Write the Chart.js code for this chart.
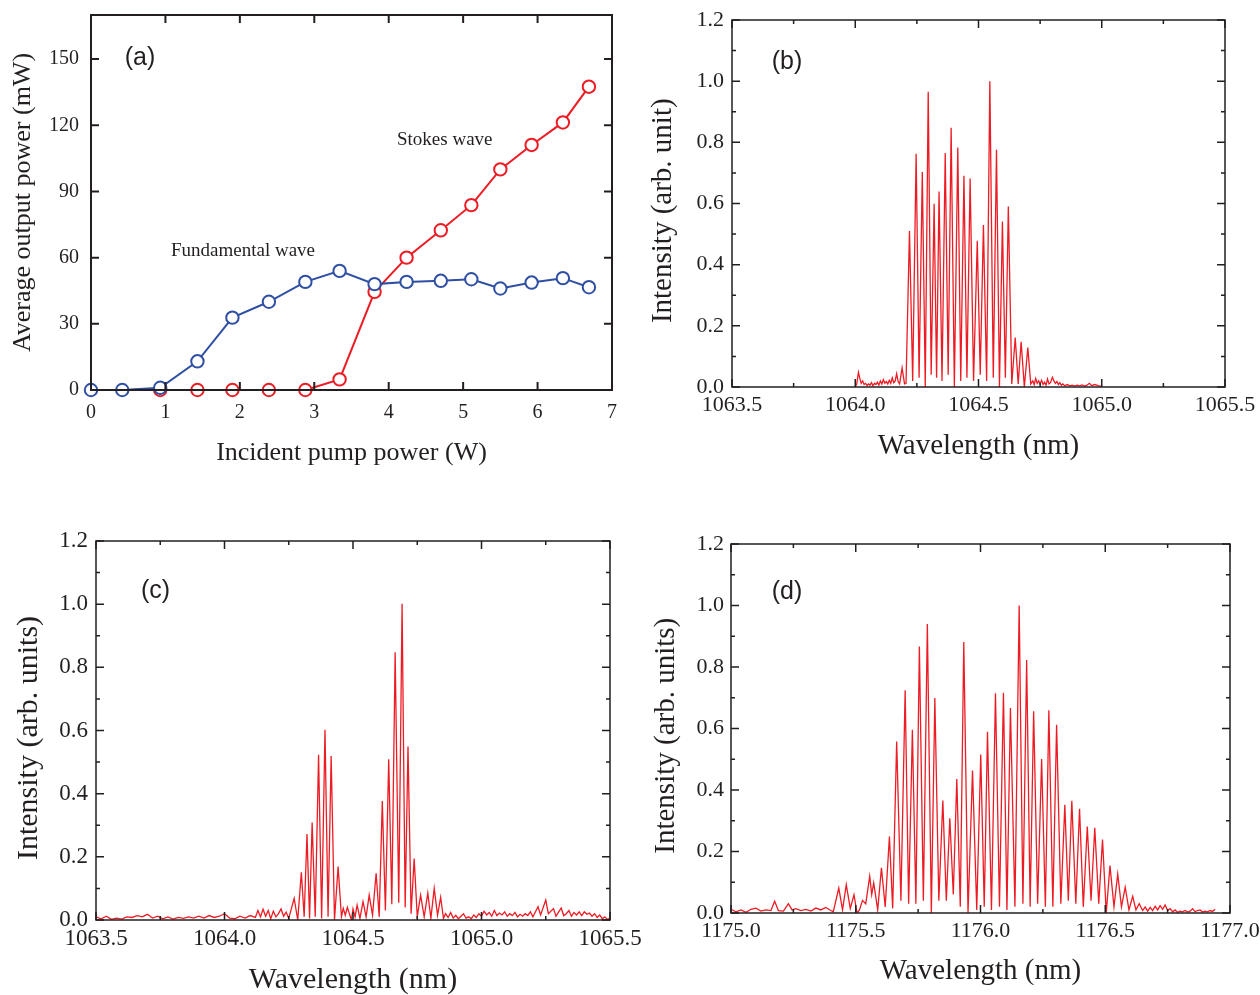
<!DOCTYPE html>
<html><head><meta charset="utf-8">
<script src="https://cdn.jsdelivr.net/npm/chart.js@4.4.1/dist/chart.umd.min.js"></script>
<style>
html,body{margin:0;padding:0;background:#fff;}
body{width:1260px;height:995px;overflow:hidden;position:relative}
canvas{position:absolute}
</style></head><body>
<canvas id="ca" width="640" height="480" style="left:0;top:0"></canvas>
<canvas id="cb" width="620" height="480" style="left:640px;top:0"></canvas>
<canvas id="cc" width="650" height="495" style="left:0;top:500px"></canvas>
<canvas id="cd" width="620" height="495" style="left:640px;top:500px"></canvas>
<script>
// ---------- Panel (a) data ----------
const pumpFund = [0, 0.42, 0.93, 1.43, 1.90, 2.39, 2.88, 3.34, 3.81, 4.24, 4.70, 5.11, 5.50, 5.92, 6.34, 6.69];
const fundPower = [0, 0, 1, 13, 32.8, 40, 49, 54, 48, 49, 49.5, 50.2, 46, 48.7, 50.7, 46.6];
const pumpStokes = [0.93, 1.43, 1.90, 2.39, 2.88, 3.34, 3.81, 4.24, 4.70, 5.11, 5.50, 5.92, 6.34, 6.69];
const stokesPower = [0, 0, 0, 0, 0, 4.8, 44.5, 60, 72.4, 83.8, 100, 111.1, 121.3, 137.5];
const aXTicks = [0, 1, 2, 3, 4, 5, 6, 7];
const aYTicks = [0, 30, 60, 90, 120, 150];

// ---------- Spectra tick labels ----------
const b_c_XTicks = ['1063.5', '1064.0', '1064.5', '1065.0', '1065.5'];
const dXTicks = ['1175.0', '1175.5', '1176.0', '1176.5', '1177.0'];
const intTicks = ['0.0', '0.2', '0.4', '0.6', '0.8', '1.0', '1.2'];

// ---------- Panel (b) spectrum [wavelength nm, intensity] ----------
const specB = [
[1064.000,0.000],[1064.006,0.010],[1064.013,0.048],[1064.018,0.030],[1064.024,0.012],[1064.030,0.020],
[1064.036,0.008],[1064.042,0.012],[1064.048,0.005],[1064.054,0.010],[1064.060,0.006],[1064.066,0.014],
[1064.072,0.004],[1064.078,0.012],[1064.084,0.008],[1064.090,0.016],[1064.096,0.006],[1064.102,0.020],
[1064.108,0.010],[1064.114,0.024],[1064.120,0.012],[1064.126,0.018],[1064.132,0.010],[1064.138,0.022],
[1064.144,0.012],[1064.150,0.030],[1064.156,0.014],[1064.162,0.020],[1064.168,0.044],[1064.174,0.018],
[1064.180,0.010],[1064.190,0.062],[1064.200,0.010],[1064.206,0.012],
[1064.220,0.510],[1064.233,0.020],[1064.247,0.763],[1064.259,0.030],[1064.272,0.703],[1064.284,0.000],
[1064.296,0.965],[1064.308,0.040],[1064.320,0.599],[1064.330,0.030],[1064.340,0.639],[1064.352,0.020],
[1064.365,0.765],[1064.377,0.040],[1064.389,0.848],[1064.402,0.000],[1064.416,0.783],[1064.428,0.020],
[1064.441,0.691],[1064.453,0.030],[1064.466,0.682],[1064.480,0.020],[1064.495,0.478],[1064.507,0.040],
[1064.520,0.530],[1064.533,0.020],[1064.546,1.000],[1064.560,0.030],[1064.573,0.776],[1064.585,0.000],
[1064.597,0.541],[1064.609,0.030],[1064.621,0.590],[1064.635,0.010],[1064.649,0.162],[1064.661,0.010],
[1064.673,0.148],[1064.686,0.000],[1064.700,0.129],[1064.712,0.010],
[1064.720,0.020],[1064.726,0.008],[1064.732,0.028],[1064.738,0.012],[1064.744,0.020],[1064.750,0.010],
[1064.756,0.022],[1064.762,0.008],[1064.768,0.016],[1064.774,0.006],[1064.780,0.026],[1064.786,0.010],
[1064.792,0.014],[1064.800,0.032],[1064.806,0.020],[1064.812,0.012],[1064.818,0.018],[1064.824,0.008],
[1064.830,0.014],[1064.836,0.006],[1064.842,0.010],[1064.850,0.004],[1064.860,0.008],[1064.870,0.004],
[1064.880,0.006],[1064.890,0.003],[1064.900,0.006],[1064.910,0.004],[1064.920,0.007],[1064.930,0.003],
[1064.940,0.006],[1064.950,0.012],[1064.960,0.004],[1064.970,0.008],[1064.980,0.006],[1064.990,0.003],
[1065.000,0.004]
];

// ---------- Panel (c) spectrum ----------
const specC = [
[1063.50,0.010],[1063.52,0.004],[1063.54,0.012],[1063.56,0.002],[1063.58,0.006],[1063.60,0.003],
[1063.62,0.010],[1063.64,0.008],[1063.66,0.014],[1063.68,0.010],[1063.70,0.018],[1063.72,0.006],
[1063.74,0.012],[1063.76,0.004],[1063.78,0.010],[1063.80,0.003],[1063.82,0.008],[1063.84,0.005],
[1063.86,0.010],[1063.88,0.006],[1063.90,0.012],[1063.92,0.006],[1063.94,0.014],[1063.96,0.008],
[1063.98,0.012],[1064.00,0.020],[1064.02,0.006],[1064.04,0.004],[1064.06,0.012],[1064.08,0.006],
[1064.10,0.014],[1064.12,0.008],[1064.13,0.030],[1064.14,0.010],[1064.15,0.034],[1064.16,0.012],
[1064.17,0.030],[1064.18,0.004],[1064.19,0.028],[1064.20,0.010],[1064.21,0.020],[1064.22,0.035],
[1064.23,0.012],[1064.24,0.025],[1064.25,0.005],
[1064.271,0.069],[1064.285,0.000],[1064.299,0.151],[1064.310,0.010],[1064.321,0.272],[1064.331,0.005],
[1064.341,0.309],[1064.353,0.010],[1064.366,0.523],[1064.378,0.005],[1064.391,0.602],[1064.403,0.010],
[1064.415,0.519],[1064.428,0.000],[1064.442,0.169],[1064.455,0.010],[1064.462,0.037],[1064.470,0.015],
[1064.478,0.040],[1064.486,0.020],[1064.494,0.000],[1064.500,0.035],[1064.508,0.010],[1064.516,0.047],
[1064.527,0.005],[1064.539,0.058],[1064.551,0.010],[1064.563,0.079],[1064.576,0.015],[1064.590,0.148],
[1064.602,0.010],[1064.614,0.377],[1064.626,0.030],[1064.639,0.509],[1064.651,0.050],[1064.664,0.848],
[1064.678,0.055],[1064.691,1.001],[1064.703,0.040],[1064.714,0.549],[1064.726,0.020],[1064.738,0.195],
[1064.750,0.010],[1064.763,0.079],[1064.777,0.010],[1064.791,0.085],[1064.803,0.005],[1064.816,0.100],
[1064.829,0.015],[1064.841,0.072],[1064.852,0.005],
[1064.86,0.020],[1064.87,0.008],[1064.88,0.024],[1064.89,0.006],[1064.90,0.015],[1064.91,0.004],
[1064.92,0.012],[1064.93,0.020],[1064.94,0.006],[1064.95,0.010],[1064.96,0.004],[1064.97,0.016],
[1064.98,0.008],[1064.99,0.020],[1065.00,0.012],[1065.01,0.028],[1065.02,0.016],[1065.03,0.024],
[1065.04,0.012],[1065.05,0.030],[1065.06,0.014],[1065.07,0.022],[1065.08,0.016],[1065.09,0.026],
[1065.10,0.012],[1065.11,0.020],[1065.12,0.014],[1065.13,0.024],[1065.14,0.010],[1065.15,0.018],
[1065.16,0.012],[1065.17,0.020],[1065.18,0.014],[1065.19,0.026],[1065.20,0.010],[1065.22,0.042],
[1065.23,0.016],[1065.25,0.063],[1065.26,0.020],[1065.28,0.036],[1065.29,0.012],[1065.31,0.038],
[1065.32,0.014],[1065.33,0.020],[1065.34,0.030],[1065.35,0.012],[1065.36,0.024],[1065.37,0.016],
[1065.38,0.026],[1065.39,0.014],[1065.40,0.026],[1065.41,0.018],[1065.42,0.022],[1065.43,0.012],
[1065.44,0.020],[1065.45,0.008],[1065.46,0.016],[1065.47,0.004],[1065.48,0.010],[1065.49,0.002],
[1065.50,0.006]
];

// ---------- Panel (d) spectrum ----------
const specD = [
[1175.00,0.012],[1175.02,0.004],[1175.04,0.010],[1175.06,0.002],[1175.08,0.012],[1175.10,0.016],
[1175.12,0.006],[1175.14,0.010],[1175.16,0.008],[1175.175,0.038],[1175.19,0.008],[1175.21,0.006],
[1175.23,0.030],[1175.245,0.010],[1175.26,0.014],[1175.28,0.008],[1175.30,0.012],[1175.32,0.006],
[1175.34,0.016],[1175.36,0.010],[1175.38,0.018],[1175.40,0.008],[1175.41,0.004],
[1175.432,0.081],[1175.447,0.010],[1175.462,0.092],[1175.478,0.015],[1175.493,0.059],[1175.505,0.000],
[1175.515,0.010],[1175.527,0.041],[1175.540,0.030],[1175.556,0.120],[1175.564,0.060],[1175.572,0.098],
[1175.588,0.010],[1175.603,0.147],[1175.618,0.020],[1175.635,0.249],[1175.648,0.015],[1175.664,0.558],
[1175.681,0.040],[1175.698,0.724],[1175.712,0.030],[1175.727,0.596],[1175.741,0.030],[1175.755,0.867],
[1175.771,0.040],[1175.787,0.940],[1175.803,0.000],[1175.817,0.699],[1175.833,0.040],[1175.849,0.366],
[1175.863,0.040],[1175.877,0.308],[1175.891,0.060],[1175.905,0.436],[1175.919,0.020],[1175.933,0.881],
[1175.950,0.000],[1175.968,0.463],[1175.985,0.010],[1176.001,0.515],[1176.015,0.020],[1176.028,0.589],
[1176.044,0.010],[1176.060,0.715],[1176.076,0.020],[1176.092,0.716],[1176.106,0.010],[1176.120,0.667],
[1176.138,0.020],[1176.155,1.000],[1176.170,0.030],[1176.185,0.823],[1176.199,0.020],[1176.213,0.656],
[1176.229,0.030],[1176.245,0.501],[1176.260,0.020],[1176.274,0.659],[1176.290,0.020],[1176.305,0.612],
[1176.322,0.030],[1176.338,0.352],[1176.352,0.040],[1176.366,0.365],[1176.382,0.030],[1176.397,0.339],
[1176.412,0.020],[1176.428,0.281],[1176.443,0.040],[1176.458,0.277],[1176.474,0.030],[1176.489,0.239],
[1176.504,0.000],[1176.519,0.154],[1176.535,0.020],[1176.550,0.127],[1176.565,0.020],[1176.580,0.084],
[1176.595,0.010],[1176.610,0.054],[1176.623,0.010],[1176.636,0.030],[1176.650,0.008],
[1176.66,0.020],[1176.67,0.006],[1176.68,0.018],[1176.69,0.008],[1176.70,0.022],[1176.71,0.010],
[1176.72,0.024],[1176.73,0.012],[1176.74,0.026],[1176.75,0.008],[1176.76,0.014],[1176.77,0.004],
[1176.78,0.010],[1176.79,0.002],[1176.80,0.006],[1176.81,0.004],[1176.82,0.008],[1176.83,0.003],
[1176.84,0.006],[1176.85,0.014],[1176.86,0.004],[1176.87,0.008],[1176.88,0.010],[1176.89,0.003],
[1176.90,0.006],[1176.91,0.004],[1176.92,0.008],[1176.93,0.005],[1176.94,0.012]
];

// ---------- Rendering ----------
const INK = '#231f20';
const RED = '#ed1c24';
const BLUE = '#2e4fa3';
Chart.defaults.font.family = "'Liberation Serif', 'Times New Roman', serif";
Chart.defaults.color = INK;

function framePlugin(o) {
  return {
    id: 'frame',
    afterDraw(chart) {
      const {ctx, chartArea: a} = chart;
      const xs = chart.scales.x, ys = chart.scales.y;
      const xv = xs.ticks.map(t => t.value), yv = ys.ticks.map(t => t.value);
      ctx.save();
      ctx.strokeStyle = INK;
      ctx.lineWidth = o.lw;
      ctx.beginPath();
      const tickX = (v, L) => { const p = xs.getPixelForValue(v); ctx.moveTo(p, a.bottom); ctx.lineTo(p, a.bottom - L); ctx.moveTo(p, a.top); ctx.lineTo(p, a.top + L); };
      const tickY = (v, L) => { const p = ys.getPixelForValue(v); ctx.moveTo(a.left, p); ctx.lineTo(a.left + L, p); ctx.moveTo(a.right, p); ctx.lineTo(a.right - L, p); };
      xv.forEach(v => tickX(v, o.major));
      yv.forEach(v => tickY(v, o.major));
      if (o.minor) {
        for (let i = 0; i < xv.length - 1; i++) tickX((xv[i] + xv[i + 1]) / 2, o.minor);
        for (let i = 0; i < yv.length - 1; i++) tickY((yv[i] + yv[i + 1]) / 2, o.minor);
      }
      ctx.stroke();
      ctx.strokeRect(a.left, a.top, a.right - a.left, a.bottom - a.top);
      ctx.fillStyle = INK;
      ctx.textBaseline = 'middle';
      (o.texts || []).forEach(t => {
        ctx.font = t.font;
        ctx.textAlign = t.align;
        ctx.fillText(t.text, a.left + t.dx, a.top + t.dy);
      });
      ctx.restore();
    }
  };
}

function axis(p) {
  return {
    type: 'linear',
    min: p.min, max: p.max,
    grid: {display: false, drawTicks: false},
    border: {display: false},
    afterBuildTicks: s => { s.ticks = p.ticks.map(v => ({value: parseFloat(v)})); },
    afterFit: s => {
      if (p.isX) s.height = p.size; else s.width = p.size;
      s.paddingLeft = 0; s.paddingRight = 0; s.paddingTop = 0; s.paddingBottom = 0;
    },
    ticks: {
      autoSkip: false, maxRotation: 0, minRotation: 0,
      padding: p.tpad, color: INK,
      font: {size: p.tsize, lineHeight: 1},
      callback: (v, i) => p.ticks[i]
    },
    title: {
      display: true, text: p.title, color: INK,
      font: {size: p.hsize, lineHeight: 1},
      padding: p.isX ? {top: 0, bottom: p.hpad} : {top: p.hpad, bottom: 0}
    }
  };
}

function spectrumChart(id, spec, o) {
  new Chart(document.getElementById(id), {
    type: 'line',
    data: {datasets: [{
      data: spec.map(d => ({x: d[0], y: d[1]})),
      borderColor: RED, borderWidth: 1.3, pointRadius: 0, tension: 0, fill: false
    }]},
    options: {
      responsive: false, animation: false, events: [],
      layout: {padding: o.pad},
      plugins: {legend: {display: false}, tooltip: {enabled: false}},
      scales: {
        x: axis(Object.assign({isX: true}, o.x)),
        y: axis(Object.assign({isX: false}, o.y))
      }
    },
    plugins: [framePlugin({lw: 1.5, major: 8, minor: 4,
      texts: [{text: o.label, font: "25px 'Liberation Sans', Arial, sans-serif", align: 'center', dx: o.ldx, dy: o.ldy}]})]
  });
}

// Panel (a)
new Chart(document.getElementById('ca'), {
  type: 'line',
  data: {datasets: [
    {data: pumpFund.map((v, i) => ({x: v, y: fundPower[i]})), borderColor: BLUE, borderWidth: 2,
     pointRadius: 6.2, pointBorderWidth: 2, pointBorderColor: BLUE, pointBackgroundColor: '#ffffff', tension: 0, clip: false},
    {data: pumpStokes.map((v, i) => ({x: v, y: stokesPower[i]})), borderColor: RED, borderWidth: 2,
     pointRadius: 6.2, pointBorderWidth: 2, pointBorderColor: RED, pointBackgroundColor: '#ffffff', tension: 0, clip: false}
  ]},
  options: {
    responsive: false, animation: false, events: [],
    layout: {padding: {left: 0, top: 15, right: 28, bottom: 0}},
    plugins: {legend: {display: false}, tooltip: {enabled: false}},
    scales: {
      x: axis({isX: true, min: 0, max: 7, ticks: aXTicks.map(String), size: 90, tpad: 12.5, tsize: 20,
               title: 'Incident pump power (W)', hsize: 26, hpad: 14}),
      y: axis({isX: false, min: 0, max: 170, ticks: aYTicks.map(String), size: 91, tpad: 12, tsize: 20,
               title: 'Average output power (mW)', hsize: 26, hpad: 10})
    }
  },
  plugins: [framePlugin({lw: 2, major: 8, minor: 0, texts: [
    {text: '(a)', font: "25px 'Liberation Sans', Arial, sans-serif", align: 'center', dx: 49, dy: 43},
    {text: 'Stokes wave', font: "19px 'Liberation Serif', serif", align: 'left', dx: 306, dy: 125},
    {text: 'Fundamental wave', font: "19px 'Liberation Serif', serif", align: 'left', dx: 80, dy: 236}
  ]})]
});

spectrumChart('cb', specB, {
  pad: {left: 0, top: 20, right: 35, bottom: 0}, label: '(b)', ldx: 55, ldy: 42,
  x: {min: 1063.5, max: 1065.5, ticks: b_c_XTicks, size: 93, tpad: 7, tsize: 22, title: 'Wavelength (nm)', hsize: 29, hpad: 19.5},
  y: {min: 0, max: 1.2, ticks: intTicks, size: 92, tpad: 8, tsize: 22, title: 'Intensity (arb. unit)  ', hsize: 29, hpad: 8.5}
});
spectrumChart('cc', specC, {
  pad: {left: 0, top: 41, right: 40, bottom: 0}, label: '(c)', ldx: 59.5, ldy: 50,
  x: {min: 1063.5, max: 1065.5, ticks: b_c_XTicks, size: 75, tpad: 7.5, tsize: 23, title: 'Wavelength (nm)', hsize: 30, hpad: 0},
  y: {min: 0, max: 1.2, ticks: intTicks, size: 96, tpad: 8, tsize: 23, title: 'Intensity (arb. units)  ', hsize: 30, hpad: 14}
});
spectrumChart('cd', specD, {
  pad: {left: 0, top: 44, right: 30, bottom: 0}, label: '(d)', ldx: 56, ldy: 48,
  x: {min: 1175.0, max: 1177.0, ticks: dXTicks, size: 82, tpad: 7, tsize: 22, title: 'Wavelength (nm)', hsize: 29, hpad: 9.5},
  y: {min: 0, max: 1.2, ticks: intTicks, size: 91, tpad: 7, tsize: 22, title: 'Intensity (arb. units)  ', hsize: 29, hpad: 11.5}
});
</script>
</body></html>
